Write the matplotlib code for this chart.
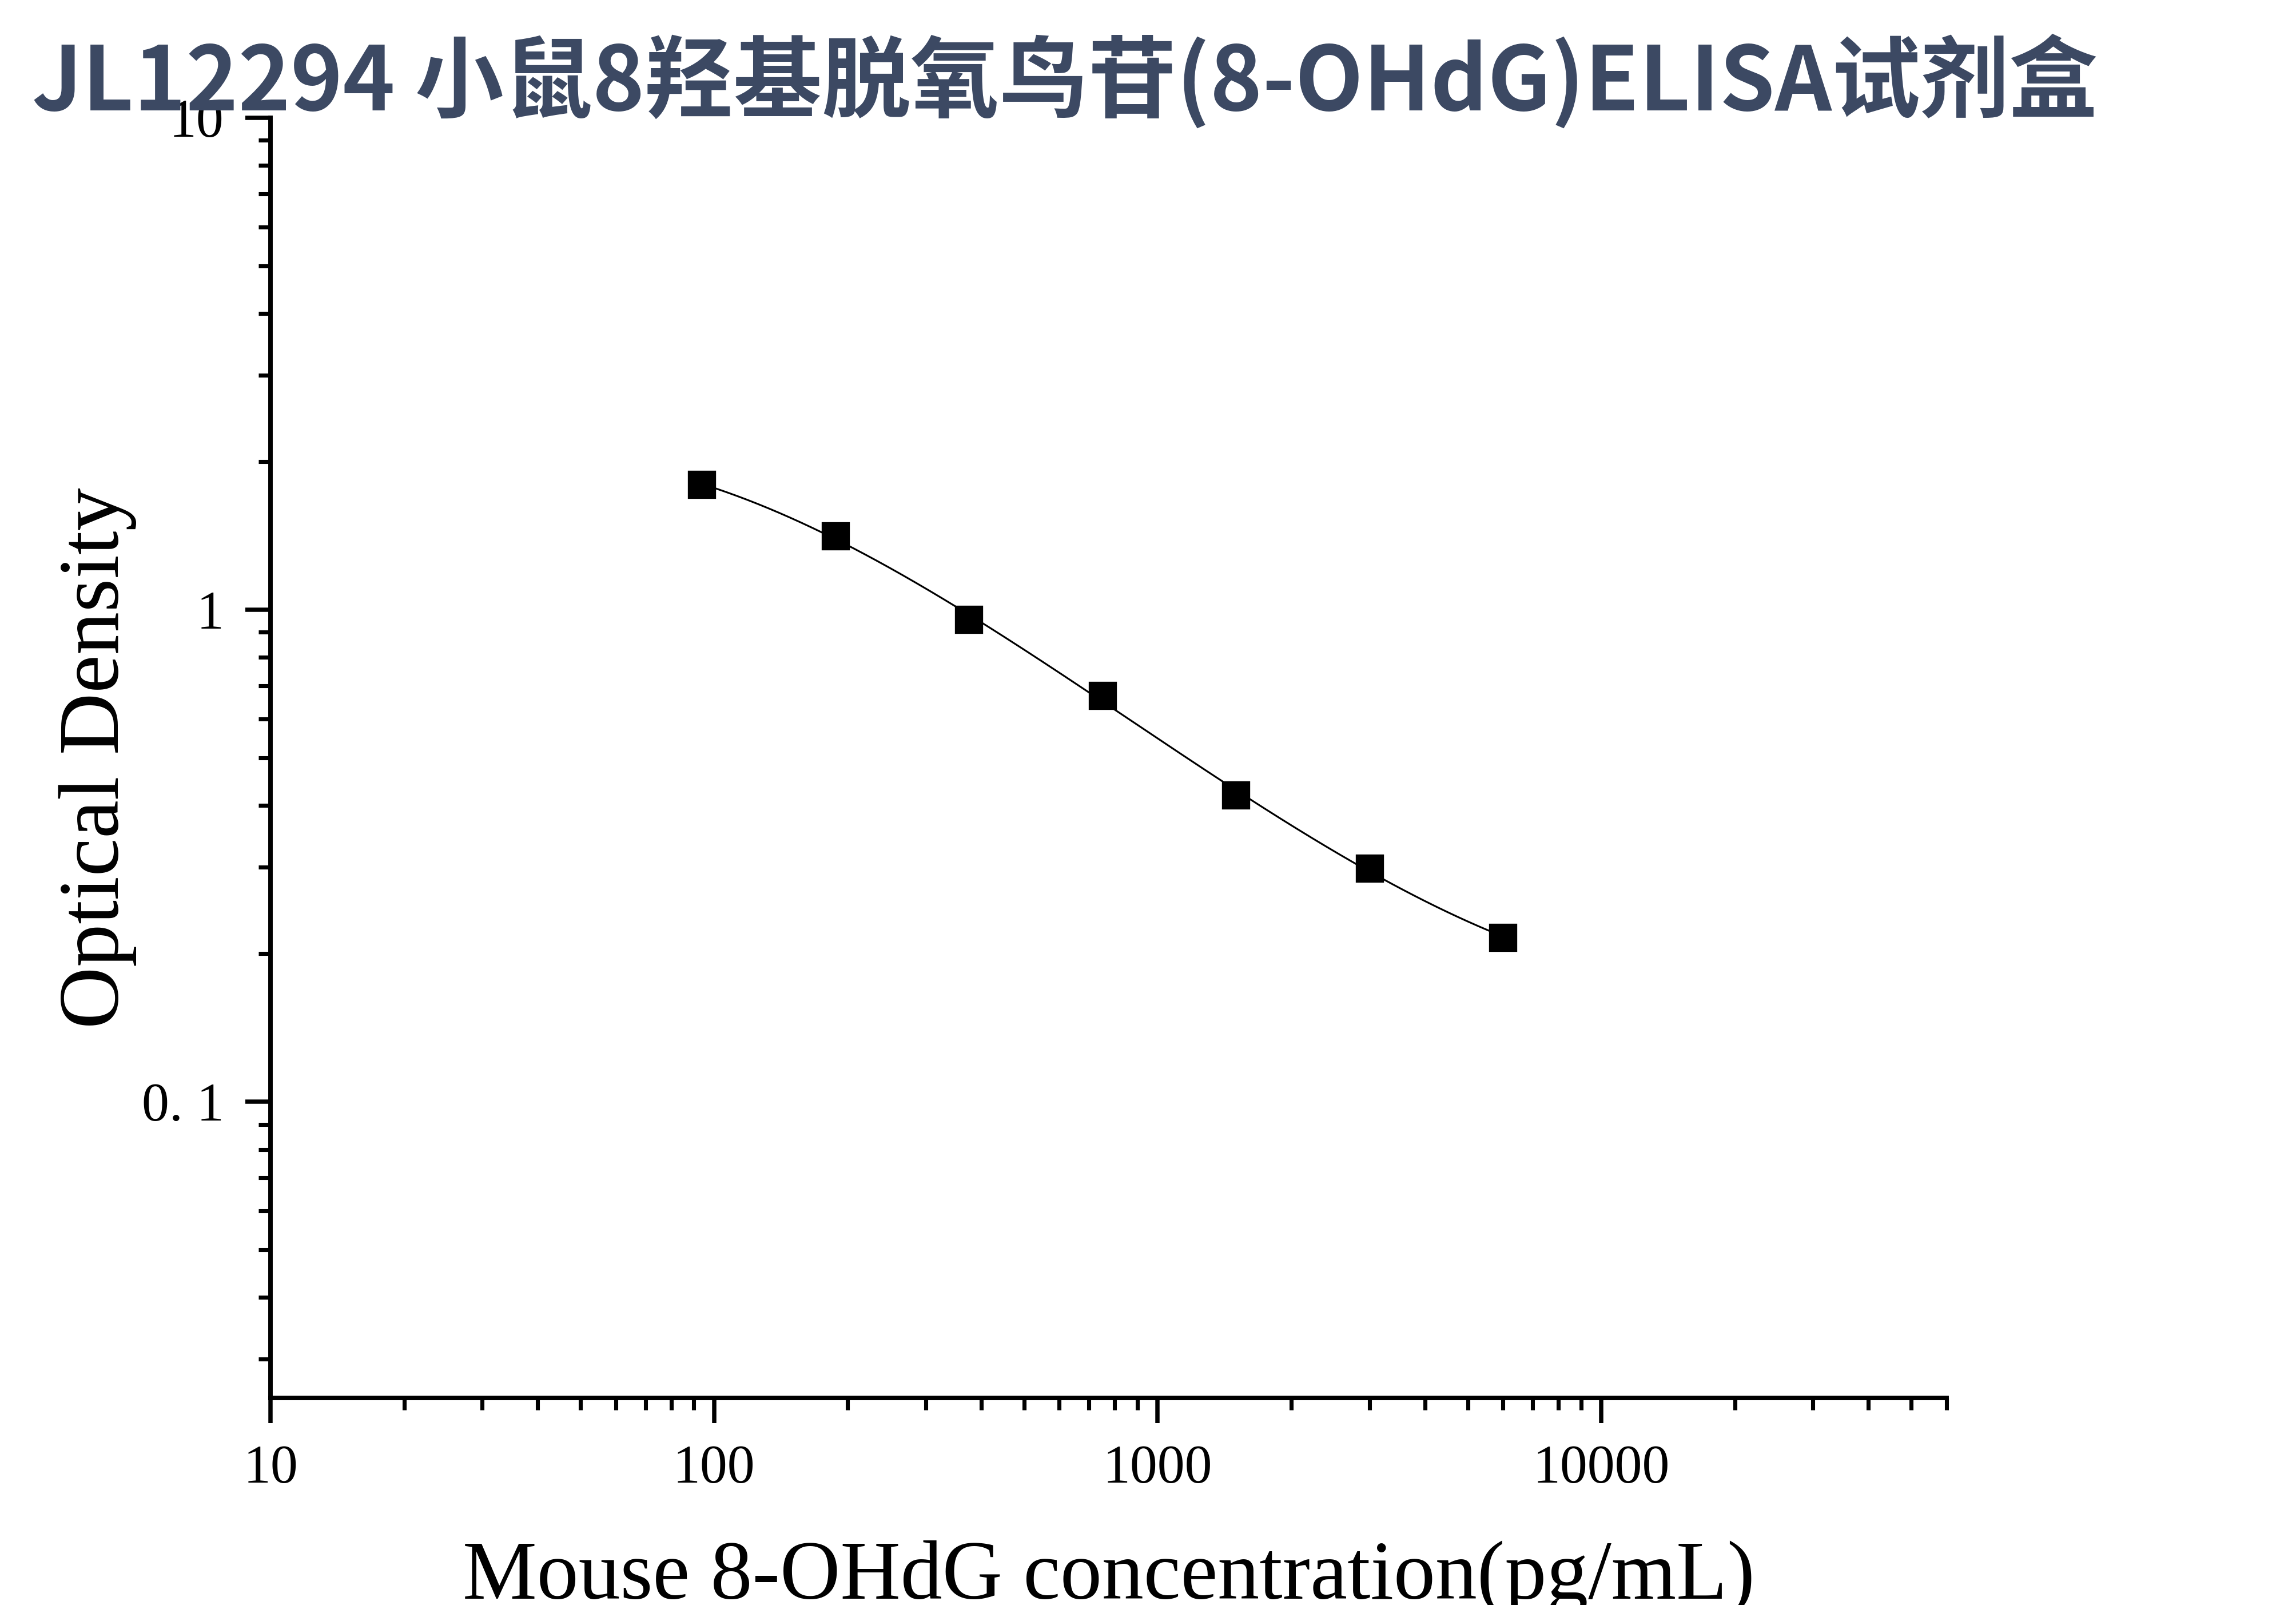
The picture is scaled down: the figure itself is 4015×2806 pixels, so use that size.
import numpy as np
import matplotlib
matplotlib.use("Agg")
import matplotlib.pyplot as plt
from matplotlib.ticker import LogLocator, FixedLocator, FixedFormatter, NullFormatter

# ---- data ----
title = "JL12294 小鼠8羟基脱氧鸟苷(8-OHdG)ELISA试剂盒"
x_label = "Mouse 8-OHdG concentration(pg/mL)"
y_label = "Optical Density"
conc = [93.75, 187.5, 375, 750, 1500, 3000, 6000]
od = [1.796, 1.413, 0.955, 0.669, 0.420, 0.298, 0.216]
x_ticks = [10, 100, 1000, 10000]
x_tick_labels = ["10", "100", "1000", "10000"]
y_ticks = [0.1, 1, 10]
y_tick_labels = ["0. 1", "1", "10"]
x_limits = (10, 60000)
y_limits = (0.025, 10)

W, H, DPI = 4015, 2806, 300
fig = plt.figure(figsize=(W / DPI, H / DPI), dpi=DPI)
L, R, T, B = 473, 3404, 206, 2444
ax = fig.add_axes([L / W, 1 - B / H, (R - L) / W, (B - T) / H])

# fitted smooth curve (cubic in log-log space) computed from the data
lx = np.log10(conc)
ly = np.log10(od)
coef = np.polyfit(lx, ly, 3)
xs = np.linspace(lx.min(), lx.max(), 300)
ax.plot(10 ** xs, 10 ** np.polyval(coef, xs), color="black", lw=0.75, zorder=2)
ax.plot(conc, od, ls="none", marker="s", ms=11, mfc="black", mec="black",
        mew=0.8, zorder=3)

ax.set_xscale("log")
ax.set_yscale("log")
ax.set_xlim(x_limits[0], x_limits[1] * 1.0005)
ax.set_ylim(*y_limits)

serif = "Liberation Serif"
ax.xaxis.set_major_locator(FixedLocator(x_ticks))
ax.xaxis.set_major_formatter(FixedFormatter(x_tick_labels))
ax.yaxis.set_major_locator(FixedLocator(y_ticks))
ax.yaxis.set_major_formatter(FixedFormatter(y_tick_labels))
ax.xaxis.set_minor_locator(LogLocator(base=10, subs=np.arange(2, 10), numticks=50))
ax.yaxis.set_minor_locator(LogLocator(base=10, subs=np.arange(2, 10), numticks=50))
ax.xaxis.set_minor_formatter(NullFormatter())
ax.yaxis.set_minor_formatter(NullFormatter())

for s in ("top", "right"):
    ax.spines[s].set_visible(False)
for s in ("left", "bottom"):
    ax.spines[s].set_linewidth(1.9)

ax.tick_params(which="major", direction="out", length=10.5, width=1.8,
               labelsize=23, pad=9)
ax.tick_params(which="minor", direction="out", length=5.1, width=1.7)
for lab in ax.get_xticklabels() + ax.get_yticklabels():
    lab.set_fontfamily(serif)

ax.set_xlabel(x_label, fontsize=35, fontfamily=serif, va="baseline")
ax.xaxis.set_label_coords(0.5, (1 - 2795 / H - (1 - B / H)) / ((B - T) / H))
ax.set_ylabel(y_label, fontsize=36, fontfamily=serif, va="baseline")
ax.yaxis.set_label_coords((207 - L) / (R - L), 0.5)

fig.text(56 / W, 1 - 193 / H, title, fontsize=37.2, fontweight="bold",
         color="#3c4963", ha="left", va="baseline",
         fontfamily=["Noto Sans CJK SC", "DejaVu Sans"], zorder=5)

fig.savefig("out.png", dpi=DPI, facecolor="white")
